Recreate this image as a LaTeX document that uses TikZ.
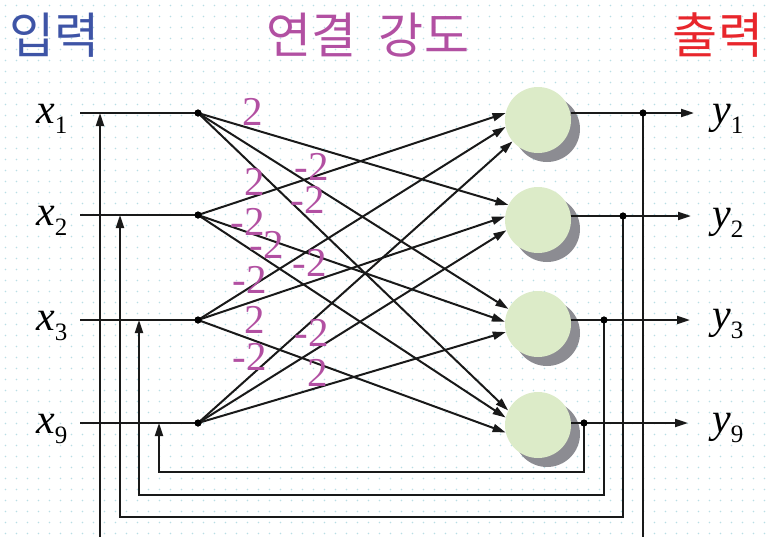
\documentclass[tikz,border=0pt]{standalone}
\usepackage{fontspec}
\setmainfont{Liberation Serif}
\newfontfamily\krfont{Noto Sans CJK KR}
\usetikzlibrary{arrows.meta, shadows}

\definecolor{inblue}{RGB}{62,84,166}
\definecolor{wmag}{RGB}{178,80,162}
\definecolor{outred}{RGB}{232,38,44}
\definecolor{cellgreen}{RGB}{220,235,200}
\definecolor{shadegray}{RGB}{140,140,146}
\definecolor{griddot}{RGB}{185,222,228}

\newcommand{\sym}[2]{{\fontsize{42}{42}\selectfont\itshape #1}\raisebox{-10pt}{\fontsize{25}{25}\selectfont #2}}

\begin{document}
\begin{tikzpicture}[
    x=1pt, y=-1pt,
    wire/.style = {line width=2pt, color=black!90},
    link/.style = {wire, -{Triangle[length=13pt, width=8pt]}},
    neuron/.style = {circle, minimum size=66pt, inner sep=0pt, fill=cellgreen, drop shadow={shadow xshift=9pt, shadow yshift=-9pt, fill=shadegray, opacity=1}},
    tap/.style = {circle, fill=black, inner sep=0pt, minimum size=7pt},
    weight/.style = {text=wmag, font=\fontsize{41}{41}\selectfont, inner sep=0pt},
    title/.style = {font=\krfont\fontsize{49}{49}\selectfont, inner sep=0pt},
    sym/.style = {anchor=base west, inner sep=0pt}
]
    \useasboundingbox (0,0) rectangle (766,536);
    \clip (0,0) rectangle (766,536);

    % Dotted paper
    \foreach \i in {0,...,69}
        \foreach \j in {0,...,48}
            \fill[griddot] (5.5+11*\i, 5.5+11*\j) circle (0.9);

    % Titles
    \node (tin) [title, text=inblue] at (55,35) {입력};
    \node (tw) [title, text=wmag] at (368,35) {연결\hspace{0.45em}강도};
    \node (tout) [title, text=outred] at (718,35) {출력};

    % Inputs
    \node (x1) [sym] at (36,123) {\sym{x}{1}};
    \node (x2) [sym] at (36,225) {\sym{x}{2}};
    \node (x3) [sym] at (36,330) {\sym{x}{3}};
    \node (x9) [sym] at (36,433) {\sym{x}{9}};
    \coordinate (s1) at (80,113);
    \coordinate (s2) at (80,215);
    \coordinate (s3) at (80,320);
    \coordinate (s9) at (80,423);
    \node (d1) [tap] at (198,113) {};
    \node (d2) [tap] at (198,215) {};
    \node (d3) [tap] at (198,320) {};
    \node (d9) [tap] at (198,423) {};

    % Neurons
    \node (n1) [neuron] at (538,120) {};
    \node (n2) [neuron] at (538,220) {};
    \node (n3) [neuron] at (538,324) {};
    \node (n9) [neuron] at (538,425) {};

    % Outputs
    \node (t1) [tap] at (643,113) {};
    \node (t2) [tap] at (623,216) {};
    \node (t3) [tap] at (604,320) {};
    \node (t9) [tap] at (584,423) {};
    \coordinate (o1) at (694,113);
    \coordinate (o2) at (691,216);
    \coordinate (o3) at (690,320);
    \coordinate (o9) at (688,423);
    \node (y1) [sym] at (712,123) {\sym{y}{1}};
    \node (y2) [sym] at (712,227) {\sym{y}{2}};
    \node (y3) [sym] at (712,328) {\sym{y}{3}};
    \node (y9) [sym] at (712,432) {\sym{y}{9}};

    % Feedback ends on the input lines
    \coordinate (f1) at (100,113);
    \coordinate (f2) at (120,215);
    \coordinate (f3) at (139,320);
    \coordinate (f9) at (159,423);

    % Connections
    \foreach \i in {1,2,3,9} {
        \draw [wire] (s\i) -- (d\i.center);
        \draw [link] (n\i.east |- t\i) -- (o\i);
    }
    \draw [link] (t1.center) -- ++(0,432) -| (f1);
    \draw [link] (t2.center) -- ++(0,301) -| (f2);
    \draw [link] (t3.center) -- ++(0,175) -| (f3);
    \draw [link] (t9.center) -- ++(0,49) -| (f9);

    \foreach \a/\b/\ang in {2/1/168, 3/1/192, 9/1/220, 1/2/153, 3/2/174, 9/2/198,
                            1/3/153, 2/3/176, 9/3/194, 1/9/154, 2/9/167, 3/9/193}
        \draw [link] (d\a.center) -- (n\b.\ang);

    \foreach \i in {1,2,3,9} {
        \node [tap] at (d\i) {};
        \node [tap] at (t\i) {};
    }

    % Weights
    \foreach \px/\py/\w [count=\k] in {253/112/2, 255/182/2, 312/167/-2, 308/200/-2,
                                       248/222/-2, 267/245/-2, 310/263/-2, 250/280/-2,
                                       255/320/2, 312/333/-2, 250/357/-2, 318/373/2}
        \node (w\k) [weight] at (\px,\py) {\w};
\end{tikzpicture}
\end{document}
